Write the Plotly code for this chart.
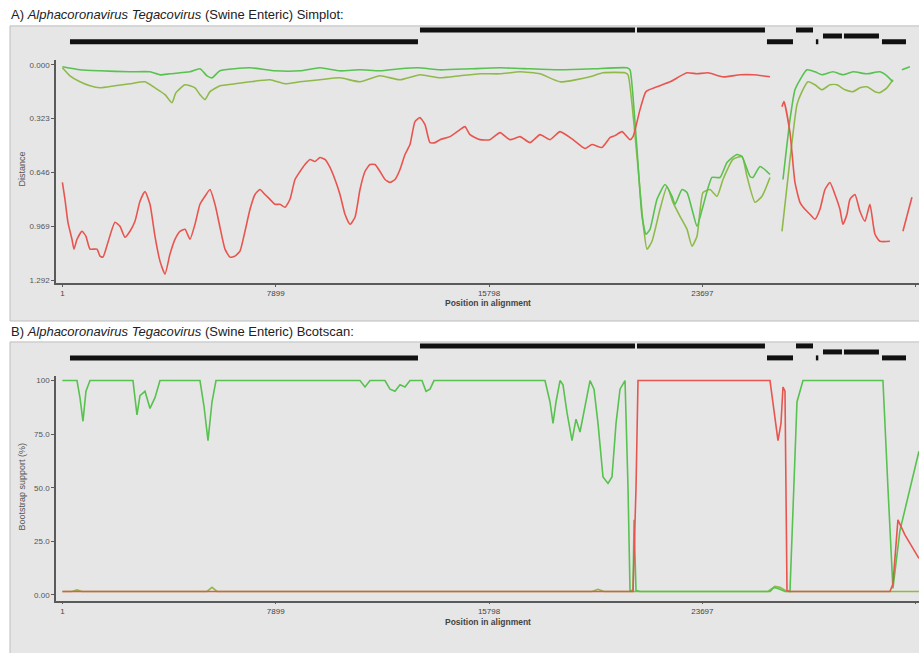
import plotly.graph_objects as go

W, H = 919, 653

# ---------------- data ----------------
# Panel A: Simplot distance (alignment position, distance); None = gap
red_a_pos = [1, 96, 207, 355, 430, 541, 726, 874, 1022, 1281, 1392, 1503, 1688, 1948, 2133, 2318, 2503, 2688, 2873, 3059,
             3244, 3429, 3614, 3799, 3984, 4169, 4355, 4540, 4725, 4910, 5095, 5280, 5466, 5651, 5836, 6021, 6206, 6391,
             6576, 6762, 6947, 7132, 7317, 7502, 7687, 7872, 8058, 8243, 8428, 8613, 8798, 8983, 9168, 9354, 9539, 9724,
             9909, 10094, 10279, 10464, 10650, 10835, 11020, 11205, 11390, 11575, 11760, 11946, 12131, 12316, 12501,
             12686, 12871, 13056, 13242, 13427, 13612, 13797, 13982, 14352, 14723, 14908, 15093, 15463, 15834, 16204,
             16574, 16945, 17315, 17685, 18056, 18426, 18907, 19352, 19611, 19981, 20277, 20463, 20722, 21018, 21129,
             21388, 21610, 22017, 22499, 23128, 23498, 23905, 24461, 25090, 25572, 26201, 26400,
             26645, 26719, 26941, 27126, 27311, 27496, 27681, 27866, 28051, 28236, 28421, 28606, 28791, 28902, 29050,
             29161, 29346, 29531, 29716, 29902, 30087, 30272, 30642, 30900, 31123, 31456]
red_a_val = [0.706, 0.807, 0.945, 1.047, 1.106, 1.047, 0.999, 1.029, 1.106, 1.106, 1.148, 1.154, 1.065, 0.945, 0.969,
             1.035, 0.999, 0.939, 0.819, 0.760, 0.837, 1.029, 1.178, 1.256, 1.136, 1.047, 0.999, 0.987, 1.047, 0.957,
             0.837, 0.789, 0.748, 0.837, 0.975, 1.106, 1.154, 1.148, 1.118, 0.999, 0.867, 0.778, 0.748, 0.778, 0.807,
             0.837, 0.837, 0.855, 0.807, 0.688, 0.640, 0.598, 0.568, 0.580, 0.556, 0.568, 0.616, 0.688, 0.778, 0.897,
             0.957, 0.915, 0.748, 0.640, 0.598, 0.598, 0.640, 0.688, 0.706, 0.688, 0.628, 0.538, 0.478, 0.341, 0.317,
             0.359, 0.467, 0.467, 0.449, 0.431, 0.389, 0.371, 0.419, 0.449, 0.449, 0.407, 0.449, 0.431, 0.467, 0.419,
             0.449, 0.401, 0.449, 0.502, 0.478, 0.496, 0.437, 0.425, 0.401, 0.449, 0.431, 0.269, 0.161, 0.132, 0.102,
             0.048, 0.054, 0.048, 0.072, 0.060, 0.060, 0.072, None,
             0.251, 0.221, 0.407, 0.706, 0.825, 0.867, 0.897, 0.927, 0.867, 0.748, 0.706, 0.778, 0.867, 0.957, 0.897,
             0.807, 0.778, 0.879, 0.939, 0.837, 1.017, 1.059, 1.059, None, 0.999, 0.795]

green_a_pos = [1, 652, 1392, 2503, 3244, 3614, 3984, 4725, 5095, 5355, 5540, 5836, 6947, 7872, 8798, 9539, 10279,
               11020, 11760, 12501, 13168, 13982, 15093, 16204, 17315, 18426, 19648, 20907, 21018, 21129, 21277, 21462,
               21610, 21758, 22017, 22314, 22573, 22684, 22943, 23128, 23313, 23498, 23720, 24054, 24350, 24609, 24979,
               25164, 25461, 25572, 25831, 26201, 26400,
               26682, 26941, 27126, 27311, 27570, 27866, 28125, 28532, 28902, 29272, 29790, 30272, 30531, 30753, 30900,
               31086, 31382]
green_a_val = [0.012, 0.030, 0.036, 0.042, 0.042, 0.060, 0.054, 0.042, 0.024, 0.066, 0.078, 0.036, 0.018, 0.036, 0.036,
               0.018, 0.036, 0.030, 0.036, 0.024, 0.018, 0.030, 0.024, 0.018, 0.024, 0.030, 0.024, 0.018, 0.030, 0.191,
               0.508, 0.909, 1.017, 0.987, 0.807, 0.718, 0.789, 0.837, 0.748, 0.766, 0.867, 0.969, 0.849, 0.676, 0.676,
               0.586, 0.538, 0.550, 0.670, 0.676, 0.610, 0.658, None,
               0.688, 0.329, 0.150, 0.090, 0.030, 0.042, 0.060, 0.042, 0.060, 0.042, 0.054, 0.042, 0.066, 0.102, None,
               0.030, 0.012]

olive_a_pos = [1, 281, 652, 1022, 1392, 1948, 2503, 3059, 3429, 3799, 4058, 4206, 4540, 4910, 5095, 5280, 5466, 5836,
               6391, 6947, 7687, 8243, 8798, 9539, 10279, 11020, 11760, 12501, 13242, 13982, 14723, 15463, 16204,
               16945, 17685, 18426, 19537, 20018, 20833, 20944, 21277, 21499, 21647, 21832, 22128, 22388, 22610, 22869,
               23128, 23313, 23498, 23720, 23980, 24239, 24461, 24831, 25164, 25350, 25646, 25905, 26201, 26400,
               26645, 26941, 27200, 27385, 27607, 27866, 28125, 28421, 28680, 28976, 29272, 29531, 29790, 30087, 30272,
               30531, 30753]
olive_a_val = [0.018, 0.066, 0.102, 0.126, 0.138, 0.126, 0.114, 0.102, 0.138, 0.179, 0.227, 0.167, 0.120, 0.138, 0.179,
               0.209, 0.161, 0.126, 0.114, 0.102, 0.090, 0.114, 0.102, 0.090, 0.078, 0.102, 0.066, 0.090, 0.060, 0.078,
               0.066, 0.054, 0.054, 0.042, 0.054, 0.102, 0.072, 0.048, 0.048, 0.060, 0.550, 0.945, 1.106, 1.059, 0.867,
               0.730, 0.825, 0.909, 0.987, 1.089, 1.029, 0.766, 0.748, 0.789, 0.688, 0.568, 0.550, 0.670, 0.825, 0.789,
               0.676, None,
               0.999, 0.568, 0.239, 0.161, 0.102, 0.120, 0.150, 0.120, 0.120, 0.150, 0.161, 0.138, 0.132, 0.161, 0.167,
               0.138, 0.090]

# Panel B: Bootscan support (%)
green_b_pos = [1, 541, 652, 763, 874, 1022, 2614, 2762, 2873, 3059, 3244, 3429, 3614, 5095, 5244, 5392, 5540, 5688,
               11020, 11205, 11390, 11946, 12131, 12316, 12501, 12686, 12871, 13316, 13464, 13612, 13760, 17870, 18056,
               18167, 18278, 18426, 18537, 18685, 18870, 19018, 19167, 19352, 19537, 19685, 19833, 20018, 20203, 20351,
               20500, 20648, 20833, 20944, 21018, 21129, 21166, 21240, 21388, 26201, 26349, 26497, 26756, 26941, 27200,
               27422, 30383, 30568, 30753, 31012, 31716]
green_b_val = [100, 100, 92, 81, 95, 100, 100, 84, 93, 95, 87, 92, 100, 100, 88, 72, 90, 100,
               100, 97, 100, 100, 96, 95, 98, 97, 100, 100, 95, 96, 100, 100, 90,
               80, 90, 100, 98, 85, 72, 82, 76, 88, 100, 96, 80, 55, 52, 55,
               80, 96, 100, 50, 2, 2, 35, 2, 1.6, 1.6, 3.5, 3, 1.6, 1.6, 90,
               100, 100, 50, 3, 30, 67]

red_b_pos = [1, 21129, 21240, 21314, 26201, 26349, 26497, 26608, 26682, 26756, 26830, 26941, 30642, 30753, 30938,
             31197, 31716]
red_b_val = [1.6, 1.6, 50, 100, 100, 85, 72, 80, 97, 95, 2, 1.6, 1.6, 5, 35, 28, 17]

olive_b_pos = [1, 355, 541, 726, 5355, 5540, 5725, 19611, 19833, 20055, 26127, 26386, 26571, 26830, 31716]
olive_b_val = [1.6, 1.6, 2.3, 1.6, 1.6, 3.5, 1.6, 1.6, 2.6, 1.6, 1.6, 4, 3.5, 1.6, 1.6]

# Region bars above each panel (start, end, row: 1 = top, 2 = middle, 3 = bottom)
bar_start = [282, 13241, 21276, 26089, 27163, 27900, 28163, 28940, 30347]
bar_end = [13167, 21202, 26015, 27052, 27793, 27990, 28866, 30236, 31236]
bar_row = [3, 1, 1, 3, 1, 3, 2, 2, 3]

x_ticks = [1, 7899, 15798, 23697, 31596]
dist_ticks = [0.000, 0.323, 0.646, 0.969, 1.292]
dist_labels = ["0.000", "0.323", "0.646", "0.969", "1.292"]
boot_ticks = [100, 75, 50, 25, 0]
boot_labels = ["100", "75.0", "50.0", "25.0", "0.00"]

# ---------------- styling ----------------
C_GREEN = "#57c24f"
C_OLIVE = "#8fba4a"
C_RED = "#e8554f"
BG = "#e6e6e6"
AX = "#5a5a5a"
FONT = "Liberation Sans, Arial, sans-serif"


def px_y(p):
    return 1 - p / H


def px_x(p):
    return p / W


fig = go.Figure()


def line(x, y, color, xa, ya, width=1.6, smooth=False):
    ln = dict(color=color, width=width)
    if smooth:
        ln.update(shape="spline", smoothing=0.5)
    fig.add_trace(go.Scatter(x=x, y=y, mode="lines", line=ln,
                             connectgaps=False, xaxis=xa, yaxis=ya, hoverinfo="skip", showlegend=False))


def bars(xa, ya):
    bx, by = [], []
    for s, e, r in zip(bar_start, bar_end, bar_row):
        bx += [s, e, None]
        by += [r, r, None]
    fig.add_trace(go.Scatter(x=bx, y=by, mode="lines", line=dict(color="#111111", width=5),
                             xaxis=xa, yaxis=ya, hoverinfo="skip", showlegend=False))


# Panel A
line(olive_a_pos, olive_a_val, C_OLIVE, "x", "y", smooth=True)
line(green_a_pos, green_a_val, C_GREEN, "x", "y", smooth=True)
line(red_a_pos, red_a_val, C_RED, "x", "y", smooth=True)
bars("x", "y3")

# Panel B
line(olive_b_pos, olive_b_val, C_OLIVE, "x2", "y2")
line(green_b_pos, green_b_val, C_GREEN, "x2", "y2")
line(red_b_pos, red_b_val, C_RED, "x2", "y2")
bars("x2", "y4")

xr = [-236, 31718]
xdom = [px_x(56), 1]
common_x = dict(range=xr, domain=xdom, showgrid=False, zeroline=False, showline=True, linecolor=AX, linewidth=1.5,
                ticks="outside", ticklen=2, tickcolor=AX, tickvals=x_ticks, ticktext=[str(v) for v in x_ticks],
                tickfont=dict(size=8, color="#444", family=FONT))
common_y = dict(showgrid=False, zeroline=False, showline=True, linecolor=AX, linewidth=1.5, ticks="outside",
                ticklen=3, tickcolor=AX, tickfont=dict(size=8, color="#555", family=FONT))

fig.update_layout(
    width=W, height=H, margin=dict(l=0, r=0, t=0, b=0),
    paper_bgcolor="white", plot_bgcolor="rgba(0,0,0,0)",
    xaxis=dict(anchor="y", **common_x),
    xaxis2=dict(anchor="y2", **common_x),
    yaxis=dict(anchor="x", domain=[px_y(284), px_y(60)], range=[1.310, -0.030], tickvals=dist_ticks,
               ticktext=dist_labels, **common_y),
    yaxis2=dict(anchor="x2", domain=[px_y(602.5), px_y(377)], range=[-2.7, 102.2], tickvals=boot_ticks,
                ticktext=boot_labels, **common_y),
    yaxis3=dict(anchor="x", domain=[px_y(48), px_y(24)], range=[4, 0], visible=False),
    yaxis4=dict(anchor="x2", domain=[px_y(365), px_y(341)], range=[4, 0], visible=False),
    shapes=[
        dict(type="rect", xref="paper", yref="paper", x0=px_x(10), x1=1.01, y0=px_y(322), y1=px_y(26),
             fillcolor=BG, line=dict(color="#bdbdbd", width=1), layer="below"),
        dict(type="rect", xref="paper", yref="paper", x0=px_x(10), x1=1.01, y0=-0.01, y1=px_y(343),
             fillcolor=BG, line=dict(color="#bdbdbd", width=1), layer="below"),
    ],
    annotations=[
        dict(text="A) <i>Alphacoronavirus Tegacovirus</i> (Swine Enteric) Simplot:", xref="paper", yref="paper",
             x=px_x(9), y=px_y(15), xanchor="left", yanchor="middle", showarrow=False,
             font=dict(size=13, color="#222", family=FONT)),
        dict(text="B) <i>Alphacoronavirus Tegacovirus</i> (Swine Enteric) Bcotscan:", xref="paper", yref="paper",
             x=px_x(9), y=px_y(333), xanchor="left", yanchor="middle", showarrow=False,
             font=dict(size=13, color="#222", family=FONT)),
        dict(text="<b>Position in alignment</b>", xref="paper", yref="paper", x=px_x(488), y=px_y(304),
             xanchor="center", yanchor="middle", showarrow=False, font=dict(size=8.5, color="#444", family=FONT)),
        dict(text="<b>Position in alignment</b>", xref="paper", yref="paper", x=px_x(488), y=px_y(623.5),
             xanchor="center", yanchor="middle", showarrow=False, font=dict(size=8.5, color="#444", family=FONT)),
        dict(text="Distance", xref="paper", yref="paper", x=px_x(22), y=px_y(170), textangle=-90,
             xanchor="center", yanchor="middle", showarrow=False, font=dict(size=9, color="#555", family=FONT)),
        dict(text="Bootstrap support (%)", xref="paper", yref="paper", x=px_x(22), y=px_y(488), textangle=-90,
             xanchor="center", yanchor="middle", showarrow=False, font=dict(size=9, color="#555", family=FONT)),
    ],
)

fig.write_html("out.html")
